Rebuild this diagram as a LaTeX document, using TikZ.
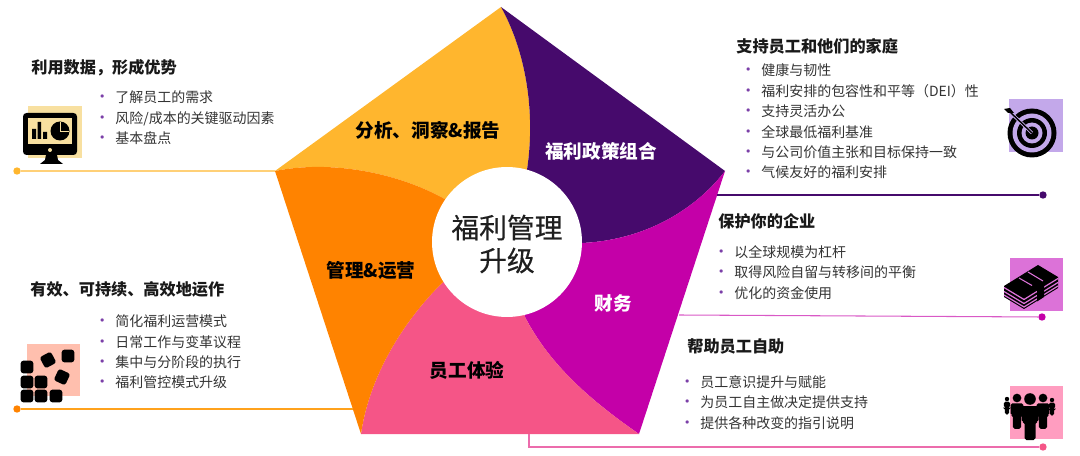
\documentclass[tikz,border=0pt]{standalone}
\usepackage{fontspec}
\setmainfont{Noto Sans CJK SC}
\usetikzlibrary{arrows.meta,positioning,calc}
\definecolor{segyellow}{HTML}{FFB62E}
\definecolor{segpurple}{HTML}{460A6C}
\definecolor{segorange}{HTML}{FF8300}
\definecolor{segpink}{HTML}{F55587}
\definecolor{segmagenta}{HTML}{C400A8}
\definecolor{dotviolet}{HTML}{7B3FA8}
\definecolor{tileyellow}{HTML}{F8E0A0}
\definecolor{tilesalmon}{HTML}{FFBFAE}
\definecolor{tileviolet}{HTML}{C3A8EA}
\definecolor{tileorchid}{HTML}{DC72D8}
\definecolor{tilepink}{HTML}{FF9DC0}
\newcommand{\itm}[1]{\makebox[12pt][l]{\textcolor{dotviolet}{\small\textbullet}}#1}

\begin{document}
\begin{tikzpicture}[x=0.02cm,y=-0.02cm,
 segtext/.style={font=\fontsize{10.6}{13}\selectfont\bfseries,inner sep=0pt},
 head/.style={font=\fontsize{9.2}{12}\selectfont\bfseries,anchor=west,inner sep=0pt,text=black!90},
 items/.style={font=\fontsize{7.95}{11.6}\selectfont,anchor=west,align=left,inner sep=0pt,text=black!80},
 enddot/.style={circle,inner sep=0pt,minimum size=4.2pt},
 lead/.style={line width=0.6pt},
 person/.pic={
  \fill (0,0) circle (5.8);
  \fill[rounded corners=1pt] (-8.5,7) -- (8.5,7) -- (8.5,23) -- (5.5,23) -- (5.5,41)
   -- (-5.5,41) -- (-5.5,23) -- (-8.5,23) -- cycle;
 }]
\useasboundingbox (0,0) rectangle (1080,456);
\coordinate (ptop) at (501,7);
\coordinate (pright) at (725,171);
\coordinate (pbr) at (639,434);
\coordinate (pbl) at (361,434);
\coordinate (pleft) at (275,171);
\coordinate (hub) at (507,242);
\fill[segyellow] (pleft) -- (ptop) .. controls (525,50) and (536,110) .. (527,170)
 -- (hub) -- (443,198) .. controls (395,172) and (330,160) .. (pleft) -- cycle;
\fill[segpurple] (ptop) -- (pright) .. controls (695,210) and (645,240) .. (582,243)
 -- (hub) -- (527,170) .. controls (536,110) and (525,50) .. (ptop) -- cycle;
\fill[segmagenta] (pright) -- (pbr) .. controls (590,400) and (550,365) .. (525,317)
 -- (hub) -- (582,243) .. controls (645,240) and (695,210) .. (pright) -- cycle;
\fill[segpink] (pbr) -- (pbl) .. controls (368,385) and (395,330) .. (442,283)
 -- (hub) -- (525,317) .. controls (550,365) and (590,400) .. (pbr) -- cycle;
\fill[segorange] (pbl) -- (pleft) .. controls (330,160) and (395,172) .. (443,198)
 -- (hub) -- (442,283) .. controls (395,330) and (368,385) .. (pbl) -- cycle;
\node[circle,fill=white,minimum size=3cm,inner sep=0pt] (core) at (hub) {};
\node[inner sep=0pt,align=center,font=\fontsize{15.8}{18.7}\selectfont\addfontfeature{FakeBold=0.4},
 text=black!88] (coretext) at (507,244) {福利管理\\升级};
\node[segtext] (analysis) at (428,130) {分析、洞察\&报告};
\node[segtext,text=white] (policy) at (601,151) {福利政策组合};
\node[segtext] (admin) at (371,270) {管理\&运营};
\node[segtext,text=white] (finance) at (613,303) {财务};
\node[segtext] (staff) at (467,370) {员工体验};

\node[head] (h1) at (31,68) {利用数据，形成优势};
\node[items] (l1) at (94,118) {\itm{了解员工的需求}\\\itm{风险/成本的关键驱动因素}\\\itm{基本盘点}};
\node[head] (h2) at (30,289) {有效、可持续、高效地运作};
\node[items] (l2) at (94,352) {\itm{简化福利运营模式}\\\itm{日常工作与变革议程}\\\itm{集中与分阶段的执行}\\\itm{福利管控模式升级}};
\node[head] (h3) at (736,46) {支持员工和他们的家庭};
\node[items] (l3) at (740,121.5) {\itm{健康与韧性}\\\itm{福利安排的包容性和平等（DEI）性}\\\itm{支持灵活办公}\\\itm{全球最低福利基准}\\\itm{与公司价值主张和目标保持一致}\\\itm{气候友好的福利安排}};
\node[head] (h4) at (718,221) {保护你的企业};
\node[items] (l4) at (713,272.5) {\itm{以全球规模为杠杆}\\\itm{取得风险自留与转移间的平衡}\\\itm{优化的资金使用}};
\node[head] (h5) at (687,346) {帮助员工自助};
\node[items] (l5) at (679,402.5) {\itm{员工意识提升与赋能}\\\itm{为员工自主做决定提供支持}\\\itm{提供各种改变的指引说明}};

\node[enddot,fill=segyellow] (d1) at (17,171) {};
\coordinate (e1) at (pleft);
\draw[line width=0.8pt,color=segyellow!65] (e1) -- (d1);
\node[enddot,fill=segorange] (d2) at (17,409) {};
\coordinate (e2) at (353,409);
\draw[lead,color=segyellow!60!segorange] (e2) -- (d2);
\node[enddot,fill=segpurple] (d3) at (1043,195) {};
\coordinate (e3) at (717,195);
\draw[lead,color=segpurple] (e3) -- (d3);
\node[enddot,fill=segmagenta] (d4) at (1042,317) {};
\coordinate (e4) at (679,315);
\draw[lead,color=segmagenta!65] (e4) -- (d4);
\node[enddot,fill=segpink] (d5) at (1043,447) {};
\coordinate (e5) at (529,434);
\draw[lead,color=segpink!70!segmagenta!75] (e5) |- (d5);

\fill[tileyellow] (28,106) rectangle (82,158);
\fill[rounded corners=2pt] (23,113) rectangle (77,155);
\fill[tileyellow] (28,118) rectangle (72,144);
\fill[tileyellow] (50,150) circle (2);
\fill (46,155) -- (57,155) -- (58,160) -- (63,164) -- (40,164) -- (45,160) -- cycle;
\fill (32,129) rectangle (36,139) (37.5,122) rectangle (41,139) (43,132) rectangle (47,139);
\fill (60,131) circle (9.5);
\draw[tileyellow,line width=0.5pt] (60,122) -- (60,131) -- (69,131);

\fill[tilesalmon] (27,344) rectangle (80,396);
\foreach \bx/\by/\br in {27/367/0,27/382/0,41/382/0,27/396/0,41/396/0,56/396/0,68/356/0,48/360/28,62/377/-25}
 \fill[rotate around={\br:(\bx,\by)},rounded corners=1.5pt] ({\bx-6.3},{\by-6.3}) rectangle ({\bx+6.3},{\by+6.3});

\fill[tileviolet] (1009,99) rectangle (1063,152);
\fill (1032,133) circle (24.5);
\fill[tileviolet] (1032,133) circle (19.5);
\fill (1032,133) circle (15);
\fill[tileviolet] (1032,133) circle (10.5);
\fill (1032,133) circle (6.5);
\draw[tileviolet,line width=1.8pt] (1011,113) -- (1032,133);
\draw[line width=0.8pt] (1009,111) -- (1032,133);
\fill (1004,109) -- (1010,108) -- (1014,113) -- (1008,113) -- cycle;

\fill[tileorchid] (1010,258) rectangle (1063,311);
\fill (1004,286) -- (1038,265) -- (1058,277) -- (1058,288) -- (1024,309) -- (1004,297) -- cycle;
\foreach \off in {1.5,5.5,9}
 \draw[tileorchid,line width=0.7pt]
  (1004,{286+\off}) -- (1024,{298+\off}) -- (1058,{277+\off});
\fill (1037,290) -- (1044,285.5) -- (1044,297) -- (1037,301.5) -- cycle;
\draw[tileorchid,line width=0.6pt] (1019,278) -- (1032,285.5) (1028,272) -- (1043,281);

\fill[tilepink] (1010,386) rectangle (1063,439);
\pic[scale=0.38] at (1007,399) {person};
\pic[scale=0.38] at (1052,400) {person};
\pic[scale=0.75] at (1017,398) {person};
\pic[scale=0.75] at (1043,398) {person};
\pic[scale=1] at (1030,399) {person};
\end{tikzpicture}
\end{document}
